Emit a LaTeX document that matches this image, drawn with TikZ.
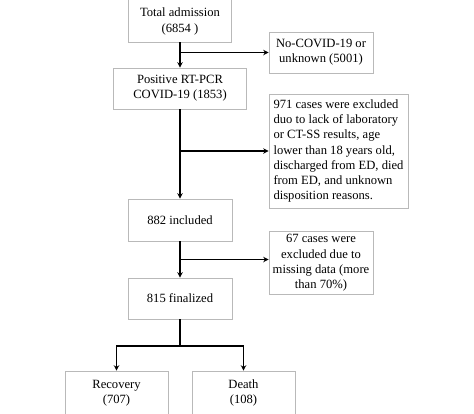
\documentclass[tikz,border=0pt]{standalone}
\usepackage{fontspec}
\setmainfont{Liberation Serif}
\usepackage{tikz}
\usetikzlibrary{positioning, calc, arrows.meta}

\begin{document}
\begin{tikzpicture}[>={Stealth[length=5.5pt,width=5.5pt]}, x=1pt, y=-1pt,
				box/.style={draw=gray!55, line width=0.6pt, inner sep=3pt, align=center,
					font=\fontsize{12.6}{15.3}\selectfont},
				flow/.style={line width=1.9pt}]
				\useasboundingbox (0,0) rectangle (474,413);
				\clip (0,0) rectangle (474,413);
				\node[box, minimum width=103pt, minimum height=44pt, text depth=-3pt] (tot) at (180,20) {Total admission\\(6854 )};
				\node[box, minimum width=104pt, minimum height=41pt] (nocov) at (321,52.5)  {No-COVID-19 or\\unknown (5001)};
				\node[box, minimum width=133pt, minimum height=41pt] (pos)   at (180,88.5)  {Positive RT-PCR\\COVID-19 (1853)};
				\node[box, minimum width=139pt, minimum height=114pt, align=left] (excl) at (338.5,151)
					{971 cases were excluded\\duo to lack of laboratory\\or CT-SS results, age\\lower than 18 years old,\\discharged from ED, died\\from ED, and unknown\\disposition reasons.};
				\node[box, minimum width=104pt, minimum height=42pt] (incl)  at (180,220)   {882 included};
				\node[box, minimum width=104pt, minimum height=62pt] (miss)  at (321,263)   {67 cases were\\excluded due to\\missing data (more\\than 70\%)};
				\node[box, minimum width=104pt, minimum height=41pt] (fin)   at (180,298.5) {815 finalized};
				\node[box, minimum width=103pt, minimum height=44pt] (rec)   at (116.5,393) {Recovery\\(707)};
				\node[box, minimum width=103pt, minimum height=44pt] (death) at (243.5,393) {Death\\(108)};
				
				%Ramificações:
				\coordinate (split) at ($(fin.south)+(0,27)$);
				
				\path[flow, ->]
				(tot)   edge (pos)
				(pos)   edge (incl)
				(incl)  edge (fin)
				(tot.south |- nocov.west) edge (nocov.west)
				(pos.south |- excl.west)  edge (excl.west)
				($(incl.south)!0.5!(fin.north)$) edge (miss.west |- {$(incl.south)!0.5!(fin.north)$});
				\draw[flow] (fin) -- (split);
				\draw[flow, ->] (split) -| (rec);
				\draw[flow, ->] (split) -| (death);
			\end{tikzpicture}
\end{document}
